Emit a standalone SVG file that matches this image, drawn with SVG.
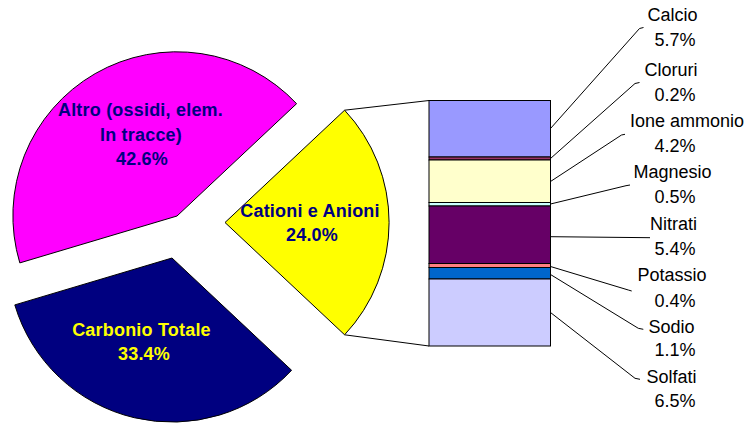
<svg xmlns="http://www.w3.org/2000/svg" width="745" height="424" viewBox="0 0 745 424">
<style>
.sl{stroke:#000;stroke-width:1}
.seg{stroke:#000;stroke-width:1}
.pl{font-family:"Liberation Sans",Arial,sans-serif;font-weight:bold;font-size:18px;letter-spacing:0.2px;text-anchor:middle}
.lb{font-family:"Liberation Sans",Arial,sans-serif;font-size:18px;text-anchor:middle;fill:#000}
.ln{fill:none;stroke:#000;stroke-width:1}
</style>
<rect width="745" height="424" fill="#fff"/>
<g id="connectors">
<path class="ln" d="M344.6,110.2 L429,100.5"/>
<path class="ln" d="M344.6,334.8 L429,346"/>
<path class="ln" d="M550.5,128.5 L639.5,28.5 L643.5,27.5"/>
<path class="ln" d="M550.5,158.5 L635,83.5 L639.5,82.5"/>
<path class="ln" d="M550.5,181.5 L621.5,135 L625,134.3"/>
<path class="ln" d="M550.5,204 L626,185.7 L630,185"/>
<path class="ln" d="M550.5,236.7 L650,237.7"/>
<path class="ln" d="M550.5,266.5 L628.3,290 L631.7,291"/>
<path class="ln" d="M550.5,274.5 L638.3,328.3 L643.3,329.3"/>
<path class="ln" d="M550.5,312.5 L635,378.3 L640,379.3"/>
</g>
<g id="altro">
<path class="sl" fill="#FF00FF" d="M177,216 L296.6,103.7 A164,164 0 0 0 19.8,262.9 Z"/>
<text class="pl" fill="#000080" x="140.5" y="116">Altro (ossidi, elem.</text>
<text class="pl" fill="#000080" x="141" y="140.5">In tracce)</text>
<text class="pl" fill="#000080" x="142" y="165">42.6%</text>
</g>
<g id="carbonio">
<path class="sl" fill="#000080" d="M172,258 L291.6,370.3 A164,164 0 0 1 14.8,304.9 Z"/>
<text class="pl" fill="#FFFF00" x="141.5" y="336">Carbonio Totale</text>
<text class="pl" fill="#FFFF00" x="144" y="360">33.4%</text>
</g>
<g id="cationi">
<path class="sl" fill="#FFFF00" d="M225,222.5 L344.6,110.2 A164,164 0 0 1 344.6,334.8 Z"/>
<text class="pl" fill="#000080" x="310" y="217">Cationi e Anioni</text>
<text class="pl" fill="#000080" x="312" y="241">24.0%</text>
</g>
<g id="bar">
<rect class="seg" fill="#9999FF" x="429" y="100.5" width="121.5" height="56.5"/>
<rect class="seg" fill="#993366" x="429" y="157" width="121.5" height="3"/>
<rect class="seg" fill="#FFFFCC" x="429" y="160" width="121.5" height="42.5"/>
<rect class="seg" fill="#CCFFFF" x="429" y="202.5" width="121.5" height="3.5"/>
<rect class="seg" fill="#660066" x="429" y="206" width="121.5" height="57.5"/>
<rect class="seg" fill="#FF8080" x="429" y="263.5" width="121.5" height="4"/>
<rect class="seg" fill="#0066CC" x="429" y="267.5" width="121.5" height="11.5"/>
<rect class="seg" fill="#CCCCFF" x="429" y="279" width="121.5" height="67"/>
</g>
<g id="label-calcio"><text class="lb" x="672.5" y="21">Calcio</text><text class="lb" x="675" y="46">5.7%</text></g>
<g id="label-cloruri"><text class="lb" x="671" y="76">Cloruri</text><text class="lb" x="675" y="101">0.2%</text></g>
<g id="label-ione"><text class="lb" x="687" y="127">Ione ammonio</text><text class="lb" x="675" y="152">4.2%</text></g>
<g id="label-magnesio"><text class="lb" x="672.5" y="177.5">Magnesio</text><text class="lb" x="675" y="202.5">0.5%</text></g>
<g id="label-nitrati"><text class="lb" x="673.5" y="229.5">Nitrati</text><text class="lb" x="675" y="254.5">5.4%</text></g>
<g id="label-potassio"><text class="lb" x="672" y="281">Potassio</text><text class="lb" x="675" y="307">0.4%</text></g>
<g id="label-sodio"><text class="lb" x="671.5" y="332.5">Sodio</text><text class="lb" x="675" y="356">1.1%</text></g>
<g id="label-solfati"><text class="lb" x="671.5" y="383">Solfati</text><text class="lb" x="675" y="407">6.5%</text></g>
</svg>
